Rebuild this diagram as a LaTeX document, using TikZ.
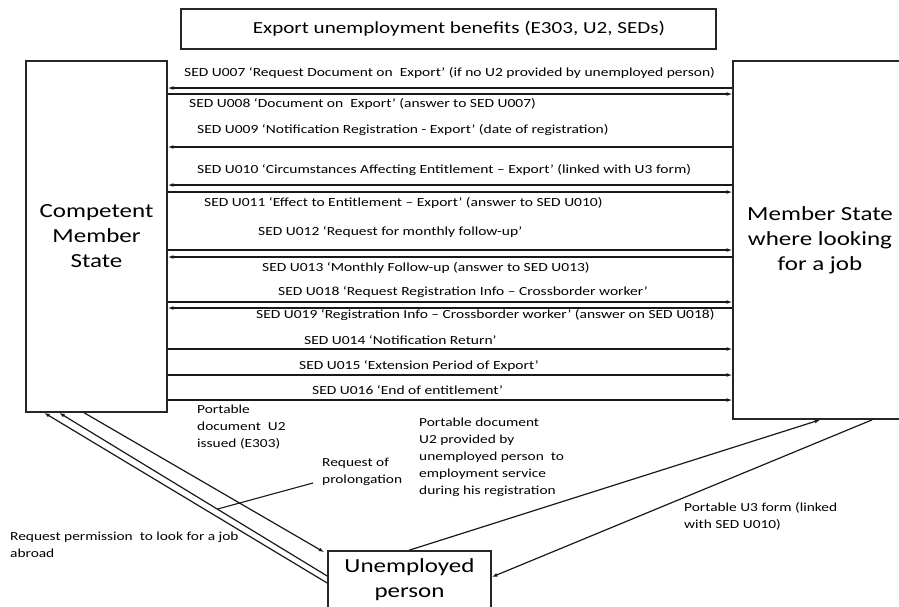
\documentclass[tikz,border=0pt]{standalone}
\usepackage{fontspec}
\setmainfont{Carlito}[FakeStretch=1.25]
\usetikzlibrary{arrows.meta,calc}
\begin{document}
\begin{tikzpicture}[x=1pt,y=-1pt,
  box/.style={draw=black!85,line width=1.6pt,rectangle,inner sep=0pt,align=center,
    font=\fontsize{20}{25}\selectfont},
  msg/.style={anchor=west,inner sep=0pt,font=\fontsize{12.4}{15}\selectfont},
  note/.style={anchor=north west,inner sep=0pt,align=left,font=\fontsize{12.3}{17}\selectfont},
  lk/.style={line width=1.2pt,draw=black!90,-{Latex[length=5.5pt,width=3.8pt]}},
  ln/.style={line width=1.1pt,draw=black!90},
]
\clip (0,0) rectangle (899,606);
\fill[white] (0,0) rectangle (899,606);

% title and the three actors
\node[box,minimum width=535pt,minimum height=40pt] (title) at (448.5,29) {};
\node[inner sep=0pt,font=\fontsize{16.9}{20}\selectfont] (titletext) at (459,29)
  {Export unemployment benefits (E303, U2, SEDs)};
\node[box,minimum width=141pt,minimum height=351pt] (cms) at (96.5,236.5)
  {Competent\\Member\\State};
\node[box,minimum width=174pt,minimum height=358pt] (ms) at (820,240)
  {Member State\\where looking\\for a job};
\node[box,minimum width=163pt,minimum height=58pt] (up) at (409.5,580)
  {Unemployed\\person};

% SED messages between the institutions
\node[msg] (m007) at (184,73) {SED U007 ‘Request Document on\ \ Export’ (if no U2 provided by unemployed person)};
\node[msg] (m008) at (189,104) {SED U008 ‘Document on\ \ Export’ (answer to SED U007)};
\node[msg] (m009) at (197,130) {SED U009 ‘Notification Registration - Export’ (date of registration)};
\node[msg] (m010) at (197,170) {SED U010 ‘Circumstances Affecting Entitlement – Export’ (linked with U3 form)};
\node[msg] (m011) at (204,203) {SED U011 ‘Effect to Entitlement – Export’ (answer to SED U010)};
\node[msg] (m012) at (258,232) {SED U012 ‘Request for monthly follow-up’};
\node[msg] (m013) at (262,268) {SED U013 ‘Monthly Follow-up (answer to SED U013)};
\node[msg] (m018) at (278,292) {SED U018 ‘Request Registration Info – Crossborder worker’};
\node[msg] (m019) at (256,315) {SED U019 ‘Registration Info – Crossborder worker’ (answer on SED U018)};
\node[msg] (m014) at (304,340) {SED U014 ‘Notification Return’};
\node[msg] (m015) at (299,366) {SED U015 ‘Extension Period of Export’};
\node[msg] (m016) at (312,390) {SED U016 ‘End of entitlement’};

\draw[lk] (ms.west |- 0,88) -- (cms.east |- 0,88);
\draw[lk] (cms.east |- 0,94) -- (ms.west |- 0,94);
\draw[lk] (ms.west |- 0,147) -- (cms.east |- 0,147);
\draw[lk] (ms.west |- 0,185) -- (cms.east |- 0,185);
\draw[lk] (cms.east |- 0,192) -- (ms.west |- 0,192);
\draw[lk] (cms.east |- 0,250) -- (ms.west |- 0,250);
\draw[lk] (ms.west |- 0,257) -- (cms.east |- 0,257);
\draw[lk] (cms.east |- 0,302) -- (ms.west |- 0,302);
\draw[lk] (ms.west |- 0,308) -- (cms.east |- 0,308);
\draw[lk] (cms.east |- 0,349) -- (ms.west |- 0,349);
\draw[lk] (cms.east |- 0,375) -- (ms.west |- 0,375);
\draw[lk] (cms.east |- 0,400) -- (ms.west |- 0,400);

% documents carried by the unemployed person
\node[note] (n1) at (197,405) {Portable\\document\ \ U2\\issued (E303)};
\node[note] (n2) at (419,418) {Portable document\\U2 provided by\\unemployed person\ \ to\\employment service\\during his registration};
\node[note] (n3) at (322,458) {Request of\\prolongation};
\node[note] (n4) at (10,532) {Request permission\ \ to look for a job\\abroad};
\node[note] (n5) at (684,502) {Portable U3 form (linked\\with SED U010)};

\coordinate (a1) at ($(up.west)+(0,3)$);
\coordinate (b1) at ($(cms.south west)+(19,0)$);
\coordinate (a2) at ($(up.west)+(0,-4)$);
\coordinate (b2) at ($(cms.south west)+(34,0)$);
\coordinate (a3) at ($(cms.south west)+(59,0)$);
\coordinate (b3) at ($(up.north west)+(-3,2)$);
\coordinate (a4) at ($(up.north west)+(82,0)$);
\coordinate (b4) at ($(ms.south west)+(88,0)$);
\coordinate (a5) at ($(ms.south west)+(140,0)$);
\coordinate (b5) at ($(up.east)+(0,-3)$);

\draw[lk] (a1) -- (b1);
\draw[lk] (a2) -- (b2);
\draw[lk] (a3) -- (b3);
\draw[lk] (a4) -- (b4);
\draw[lk] (a5) -- (b5);
\draw[ln] ($(a2)!0.41!(b2)$) -- ($(n3.west)+(-9,11)$);
\end{tikzpicture}
\end{document}
